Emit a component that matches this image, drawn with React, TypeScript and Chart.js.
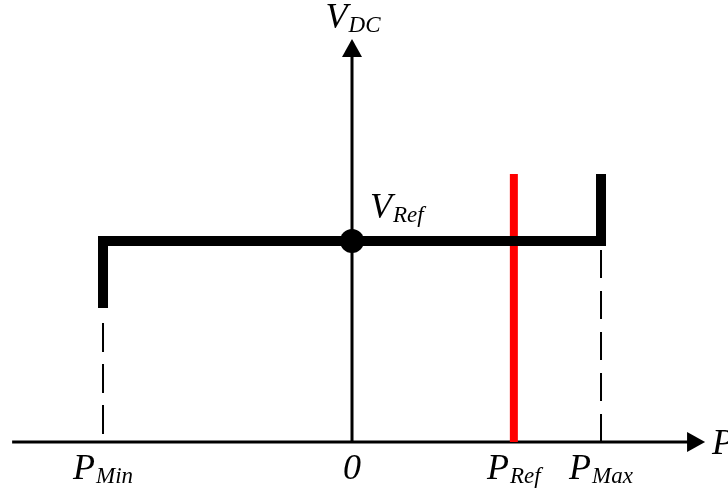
import { useEffect, useRef } from "react";
import { Chart, registerables } from "chart.js";

Chart.register(...registerables);

// Power set-points along the horizontal axis (per unit)
const P_MIN = -1;
const P_REF = 0.65;
const P_MAX = 1;

// DC voltage levels (per unit)
const V_REF = 1;
const V_LOW = 0.667;
const V_HIGH = 1.333;

// V-P characteristic (thick black trace)
const characteristicX = [P_MIN, P_MIN, P_MAX, P_MAX];
const characteristicY = [V_LOW, V_REF, V_REF, V_HIGH];

// Reference power line (red)
const refLineX = [P_REF, P_REF];
const refLineY = [0, V_HIGH];

// Dashed guides down to the axis
const minGuideX = [P_MIN, P_MIN];
const minGuideY = [0.592, 0];
const maxGuideX = [P_MAX, P_MAX];
const maxGuideY = [0.955, 0];

// Axis extents (tips of the arrows)
const axisXRange = [-1.365, 1.418];
const axisYRange = [0, 2.005];

// Labels under the horizontal axis
const tickMains = ["P", "0", "P", "P"];
const tickSubs = ["Min", "", "Ref", "Max"];
const tickValues = [P_MIN, 0, P_REF, P_MAX];

const FONT_FAMILY = "'Liberation Serif', 'DejaVu Serif', serif";
const MAIN_FONT = `italic 36px ${FONT_FAMILY}`;
const SUB_FONT = `italic 23px ${FONT_FAMILY}`;

const toPoints = (xs: number[], ys: number[]) => xs.map((x, i) => ({ x, y: ys[i] }));

function drawLabel(
  ctx: CanvasRenderingContext2D,
  main: string,
  sub: string,
  x: number,
  y: number,
  align: "left" | "center"
) {
  ctx.font = MAIN_FONT;
  const wMain = ctx.measureText(main).width;
  ctx.font = SUB_FONT;
  const wSub = sub ? ctx.measureText(sub).width + 1 : 0;
  const left = align === "center" ? x - (wMain + wSub) / 2 : x;
  ctx.textAlign = "left";
  ctx.textBaseline = "alphabetic";
  ctx.fillStyle = "#000";
  ctx.font = MAIN_FONT;
  ctx.fillText(main, left, y);
  if (sub) {
    ctx.font = SUB_FONT;
    ctx.fillText(sub, left + wMain + 1, y + 4);
  }
}

const axesPlugin = {
  id: "axesWithArrows",
  beforeDatasetsDraw(chart: any) {
    const { ctx, scales } = chart;
    const xs = scales.x;
    const ys = scales.y;
    const x0 = xs.getPixelForValue(axisXRange[0]);
    const x1 = xs.getPixelForValue(axisXRange[1]);
    const yZero = ys.getPixelForValue(0);
    const xZero = xs.getPixelForValue(0);
    const yTop = ys.getPixelForValue(axisYRange[1]);
    const head = 18;
    const half = 10;
    ctx.save();
    ctx.strokeStyle = "#000";
    ctx.fillStyle = "#000";
    ctx.lineWidth = 3;
    ctx.beginPath();
    ctx.moveTo(x0, yZero);
    ctx.lineTo(x1 - head + 2, yZero);
    ctx.moveTo(xZero, yZero);
    ctx.lineTo(xZero, yTop + head - 2);
    ctx.stroke();
    // arrow on P axis
    ctx.beginPath();
    ctx.moveTo(x1, yZero);
    ctx.lineTo(x1 - head, yZero - half);
    ctx.lineTo(x1 - head, yZero + half);
    ctx.closePath();
    ctx.fill();
    // arrow on V axis
    ctx.beginPath();
    ctx.moveTo(xZero, yTop);
    ctx.lineTo(xZero - half, yTop + head);
    ctx.lineTo(xZero + half, yTop + head);
    ctx.closePath();
    ctx.fill();
    ctx.restore();
  },
  afterDatasetsDraw(chart: any) {
    const { ctx, scales } = chart;
    const xs = scales.x;
    const ys = scales.y;
    const yZero = ys.getPixelForValue(0);
    const xZero = xs.getPixelForValue(0);
    ctx.save();
    tickValues.forEach((v, i) => {
      drawLabel(ctx, tickMains[i], tickSubs[i], xs.getPixelForValue(v), yZero + 37, "center");
    });
    drawLabel(ctx, "V", "DC", xZero + 1, ys.getPixelForValue(axisYRange[1]) - 11, "center");
    drawLabel(ctx, "V", "Ref", xZero + 18, ys.getPixelForValue(V_REF) - 23, "left");
    drawLabel(ctx, "P", "", xs.getPixelForValue(axisXRange[1]) + 7, yZero + 12, "left");
    ctx.restore();
  },
};

export default function App() {
  const canvasRef = useRef<HTMLCanvasElement | null>(null);

  useEffect(() => {
    const canvas = canvasRef.current;
    if (!canvas) return;
    const chart = new Chart(canvas, {
      type: "scatter",
      data: {
        datasets: [
          {
            data: toPoints(minGuideX, minGuideY),
            showLine: true,
            borderColor: "#000",
            borderWidth: 2,
            borderDash: [29, 12],
            pointRadius: 0,
          },
          {
            data: toPoints(maxGuideX, maxGuideY),
            showLine: true,
            borderColor: "#000",
            borderWidth: 2,
            borderDash: [28, 13],
            pointRadius: 0,
          },
          {
            data: toPoints(characteristicX, characteristicY),
            showLine: true,
            borderColor: "#000",
            borderWidth: 10,
            borderJoinStyle: "miter",
            borderCapStyle: "butt",
            pointRadius: 0,
          },
          {
            data: [{ x: 0, y: V_REF }],
            pointRadius: 12,
            pointBackgroundColor: "#000",
            pointBorderColor: "#000",
            pointBorderWidth: 0,
          },
          {
            data: toPoints(refLineX, refLineY),
            showLine: true,
            borderColor: "#ff0000",
            borderWidth: 8,
            borderCapStyle: "butt",
            pointRadius: 0,
          },
        ],
      },
      options: {
        responsive: false,
        animation: false,
        devicePixelRatio: 1,
        layout: { padding: 0, autoPadding: false },
        plugins: {
          legend: { display: false },
          tooltip: { enabled: false },
        },
        scales: {
          x: { type: "linear", display: false, min: -1.4137, max: 1.51 },
          y: { type: "linear", display: false, min: -0.2488, max: 2.199 },
        },
      },
      plugins: [axesPlugin],
    });
    return () => chart.destroy();
  }, []);

  return (
    <div
      style={{
        position: "fixed",
        left: 0,
        top: 0,
        width: 728,
        height: 492,
        background: "#fff",
        overflow: "hidden",
      }}
    >
      <canvas ref={canvasRef} width={728} height={492} />
    </div>
  );
}
